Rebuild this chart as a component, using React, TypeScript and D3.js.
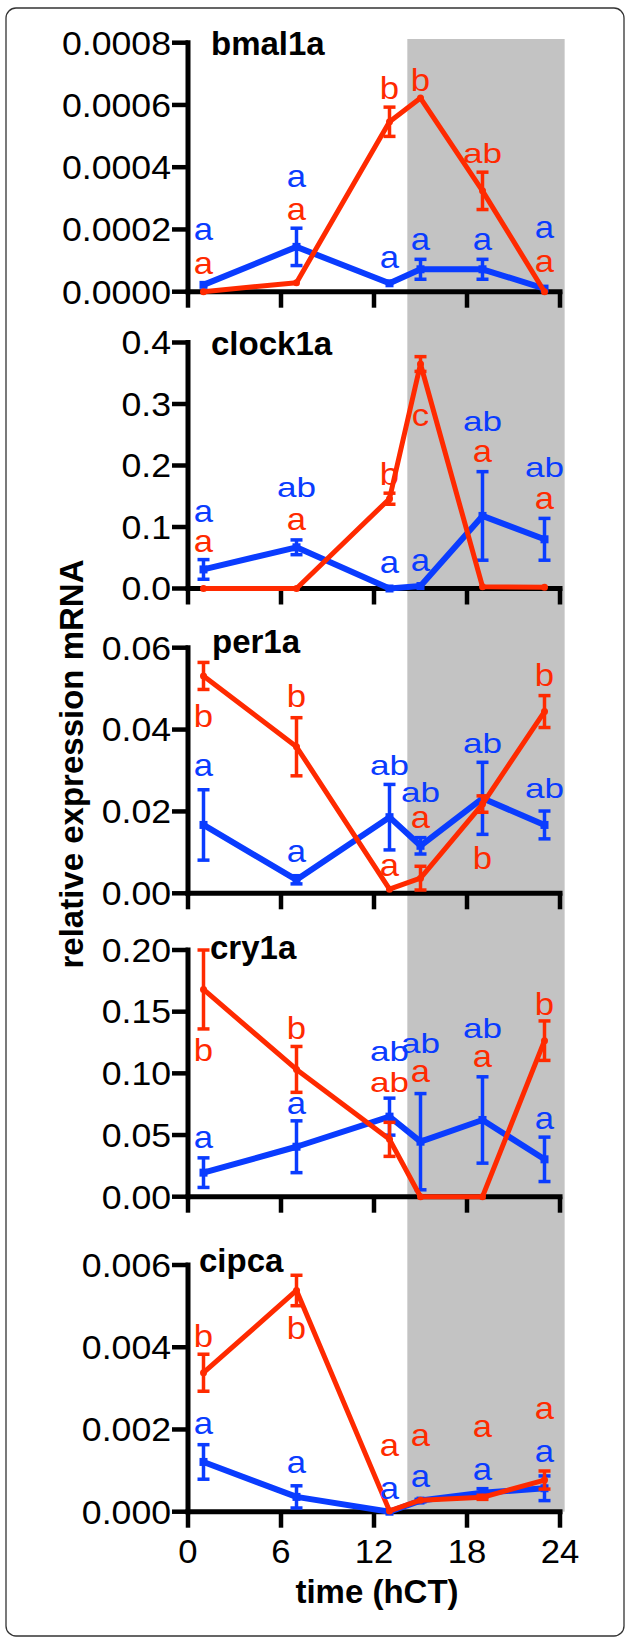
import * as d3 from "d3";

// sampling times (hCT)
const times = [1, 7, 13, 15, 19, 23];
const xTicks = [0, 6, 12, 18, 24];
const darkStart = 14.15;
const darkEnd = 24.3;

const genes = ["bmal1a", "clock1a", "per1a", "cry1a", "cipca"];

// bmal1a
const bmal1aTicks = [0, 0.0002, 0.0004, 0.0006, 0.0008];
const bmal1aBlue = [0.000022, 0.000144, 0.000027, 0.000072, 0.000072, 0.00001];
const bmal1aBlueErr = [0, 0.00006, 0, 0.000032, 0.000032, 0];
const bmal1aRed = [0, 0.000029, 0.000546, 0.000622, 0.000324, 0];
const bmal1aRedErr = [0, 0, 0.000047, 0, 0.00006, 0];
const bmal1aBlueLetters = ["a", "a", "a", "a", "a", "a"];
const bmal1aRedLetters = ["a", "a", "b", "b", "ab", "a"];
const bmal1aBlueLetterAt = [0.000166, 0.000336, 0.000076, 0.000134, 0.000134, 0.000173];
const bmal1aRedLetterAt = [0.000057, 0.00023, 0.000619, 0.000645, 0.000413, 0.000063];

// clock1a
const clock1aTicks = [0, 0.1, 0.2, 0.3, 0.4];
const clock1aBlue = [0.031, 0.067, 0, 0.004, 0.118, 0.08];
const clock1aBlueErr = [0.016, 0.012, 0, 0, 0.072, 0.034];
const clock1aRed = [0, 0, 0.146, 0.365, 0.003, 0.002];
const clock1aRedErr = [0, 0, 0.009, 0.012, 0, 0];
const clock1aBlueLetters = ["a", "ab", "a", "a", "ab", "ab"];
const clock1aRedLetters = ["a", "a", "b", "c", "a", "a"];
const clock1aBlueLetterAt = [0.108, 0.1488, 0.0252, 0.0285, 0.2561, 0.1813];
const clock1aRedLetterAt = [0.0594, 0.0951, 0.1683, 0.2642, 0.2057, 0.1293];

// per1a
const per1aTicks = [0, 0.02, 0.04, 0.06];
const per1aBlue = [0.0167, 0.0033, 0.0186, 0.0116, 0.0232, 0.0167];
const per1aBlueErr = [0.0086, 0.001, 0.008, 0.002, 0.0088, 0.0034];
const per1aRed = [0.0531, 0.0358, 0.001, 0.0037, 0.0218, 0.0444];
const per1aRedErr = [0.0033, 0.0071, 0, 0.0029, 0.002, 0.0039];
const per1aBlueLetters = ["a", "a", "ab", "ab", "ab", "ab"];
const per1aRedLetters = ["b", "b", "a", "a", "b", "b"];
const per1aBlueLetterAt = [0.02866, 0.00765, 0.0289, 0.0223, 0.0343, 0.02328];
const per1aRedLetterAt = [0.04063, 0.04552, 0.00423, 0.01595, 0.00594, 0.05065];

// cry1a
const cry1aTicks = [0, 0.05, 0.1, 0.15, 0.2];
const cry1aBlue = [0.0195, 0.0405, 0.0649, 0.0446, 0.0622, 0.0303];
const cry1aBlueErr = [0.012, 0.021, 0.015, 0.039, 0.035, 0.018];
const cry1aRed = [0.168, 0.1032, 0.0465, 0, 0, 0.1265];
const cry1aRedErr = [0.032, 0.0186, 0.0138, 0, 0, 0.016];
const cry1aBlueLetters = ["a", "a", "ab", "ab", "ab", "a"];
const cry1aRedLetters = ["b", "b", "ab", "a", "a", "b"];
const cry1aBlueLetterAt = [0.0395, 0.067, 0.11, 0.1165, 0.1287, 0.0549];
const cry1aRedLetterAt = [0.11, 0.1278, 0.0849, 0.093, 0.1051, 0.1473];

// cipca
const cipcaTicks = [0, 0.002, 0.004, 0.006];
const cipcaBlue = [0.00121, 0.00036, 0, 0.00027, 0.00046, 0.00057];
const cipcaBlueErr = [0.00042, 0.00027, 0, 0.00003, 0.0001, 0.0003];
const cipcaRed = [0.00338, 0.00538, 0.00002, 0.00028, 0.00035, 0.00077];
const cipcaRedErr = [0.00045, 0.00037, 0, 0, 0.00005, 0.00022];
const cipcaBlueLetters = ["a", "a", "a", "a", "a", "a"];
const cipcaRedLetters = ["b", "b", "a", "a", "a", "a"];
const cipcaBlueLetterAt = [0.00189, 0.000941, 0.000309, 0.0006, 0.00077, 0.00121];
const cipcaRedLetterAt = [0.004006, 0.0042, 0.001355, 0.0016, 0.00182, 0.00225];

const tickDecimals = [4, 1, 2, 2, 3];

const panelData = [
  [bmal1aTicks, bmal1aBlue, bmal1aBlueErr, bmal1aRed, bmal1aRedErr, bmal1aBlueLetters, bmal1aRedLetters, bmal1aBlueLetterAt, bmal1aRedLetterAt],
  [clock1aTicks, clock1aBlue, clock1aBlueErr, clock1aRed, clock1aRedErr, clock1aBlueLetters, clock1aRedLetters, clock1aBlueLetterAt, clock1aRedLetterAt],
  [per1aTicks, per1aBlue, per1aBlueErr, per1aRed, per1aRedErr, per1aBlueLetters, per1aRedLetters, per1aBlueLetterAt, per1aRedLetterAt],
  [cry1aTicks, cry1aBlue, cry1aBlueErr, cry1aRed, cry1aRedErr, cry1aBlueLetters, cry1aRedLetters, cry1aBlueLetterAt, cry1aRedLetterAt],
  [cipcaTicks, cipcaBlue, cipcaBlueErr, cipcaRed, cipcaRedErr, cipcaBlueLetters, cipcaRedLetters, cipcaBlueLetterAt, cipcaRedLetterAt],
];

// layout of each panel (pixel top/bottom of y range, title placement)
const layout = [
  { top: 42.7, bottom: 291.7, titleX: 211, titleY: 55 },
  { top: 342.5, bottom: 588.5, titleX: 211, titleY: 355 },
  { top: 647.7, bottom: 893.3, titleX: 212, titleY: 653 },
  { top: 950, bottom: 1196.7, titleX: 210, titleY: 959 },
  { top: 1265, bottom: 1511.7, titleX: 199, titleY: 1272 },
];

const RED = "#ff2a00";
const BLUE = "#0a3cff";
const FONT = "'Liberation Sans', Arial, Helvetica, sans-serif";

const x = d3.scaleLinear().domain([0, 24]).range([188, 560]);

type Series = { vals: number[]; errs: number[]; letters: string[]; at: number[]; color: string; width: number; square: boolean };

function Panel({ idx }: { idx: number }) {
  const [ticks, blue, blueErr, red, redErr, bL, rL, bAt, rAt] = panelData[idx] as any[];
  const lay = layout[idx];
  const y = d3.scaleLinear().domain([0, d3.max(ticks as number[])!]).range([lay.bottom, lay.top]);
  const fmt = d3.format(`.${tickDecimals[idx]}f`);

  const series: Series[] = [
    { vals: blue, errs: blueErr, letters: bL, at: bAt, color: BLUE, width: 6, square: true },
    { vals: red, errs: redErr, letters: rL, at: rAt, color: RED, width: 5, square: false },
  ];

  const line = d3.line<number>().x((_, i) => x(times[i])).y((d) => y(d));

  return (
    <g>
      {/* y axis */}
      <line x1={x(0)} x2={x(0)} y1={lay.top} y2={lay.bottom} stroke="#000" strokeWidth={5} strokeLinecap="square" />
      {(ticks as number[]).map((t) => (
        <g key={t}>
          <line x1={x(0) - 16} x2={x(0)} y1={y(t)} y2={y(t)} stroke="#000" strokeWidth={4.5} />
          <text
            transform={`translate(171,${y(t) + 11.8}) scale(1.08,1)`}
            textAnchor="end"
            fontFamily={FONT}
            fontSize={33}
            fill="#000"
          >
            {fmt(t)}
          </text>
        </g>
      ))}

      {/* x axis */}
      <line x1={x(0)} x2={x(24)} y1={lay.bottom} y2={lay.bottom} stroke="#000" strokeWidth={5} strokeLinecap="square" />
      {xTicks.map((t) => (
        <line key={t} x1={x(t)} x2={x(t)} y1={lay.bottom} y2={lay.bottom + 16} stroke="#000" strokeWidth={4.5} />
      ))}

      {/* lines, error bars, markers */}
      {series.map((s, si) => (
        <g key={si}>
          <path d={line(s.vals)!} fill="none" stroke={s.color} strokeWidth={s.width} strokeLinejoin="round" />
          {s.vals.map((v, i) =>
            s.errs[i] > 0 ? (
              <g key={i} stroke={s.color} strokeWidth={3.5}>
                <line x1={x(times[i])} x2={x(times[i])} y1={y(v - s.errs[i])} y2={y(v + s.errs[i])} />
                <line x1={x(times[i]) - 6} x2={x(times[i]) + 6} y1={y(v + s.errs[i])} y2={y(v + s.errs[i])} />
                <line x1={x(times[i]) - 6} x2={x(times[i]) + 6} y1={y(v - s.errs[i])} y2={y(v - s.errs[i])} />
              </g>
            ) : null
          )}
          {s.vals.map((v, i) =>
            s.square ? (
              <rect key={"m" + i} x={x(times[i]) - 4} y={y(v) - 4} width={8} height={8} fill={s.color} />
            ) : (
              <circle key={"m" + i} cx={x(times[i])} cy={y(v)} r={3.5} fill={s.color} />
            )
          )}
        </g>
      ))}

      {/* significance letters */}
      {series.map((s, si) =>
        s.letters.map((t, i) => (
          <text
            key={`l${si}-${i}`}
            transform={`translate(${x(times[i])},${y(s.at[i])}) scale(${t.length > 1 ? 1.3 : 1.12},1)`}
            textAnchor="middle"
            fontFamily={FONT}
            fontSize={t.length > 1 ? 27 : 31}
            fill={s.color}
          >
            {t}
          </text>
        ))
      )}

      <text x={lay.titleX} y={lay.titleY} fontFamily={FONT} fontSize={33} fontWeight="bold" fill="#000">
        {genes[idx]}
      </text>
    </g>
  );
}

export default function App() {
  const last = layout[layout.length - 1];
  return (
    <svg width={626} height={1638} style={{ position: "absolute", left: 0, top: 0, background: "#fff" }}>
      <rect x={6} y={8} width={618} height={1628} rx={10} ry={10} fill="#fff" stroke="#333" strokeWidth={1.3} />
      <rect
        x={x(darkStart)}
        y={39}
        width={x(darkEnd) - x(darkStart)}
        height={last.bottom - 39}
        fill="#c3c3c3"
      />
      {genes.map((_, i) => (
        <Panel key={i} idx={i} />
      ))}
      {xTicks.map((t) => (
        <text
          key={t}
          transform={`translate(${x(t)},1563) scale(1.05,1)`}
          textAnchor="middle"
          fontFamily={FONT}
          fontSize={33}
          fill="#000"
        >
          {t}
        </text>
      ))}
      <text x={377} y={1603} textAnchor="middle" fontFamily={FONT} fontSize={33} fontWeight="bold" fill="#000">
        time (hCT)
      </text>
      <text
        transform="translate(83,764) rotate(-90)"
        textAnchor="middle"
        fontFamily={FONT}
        fontSize={33}
        fontWeight="bold"
        fill="#000"
      >
        relative expression mRNA
      </text>
    </svg>
  );
}
